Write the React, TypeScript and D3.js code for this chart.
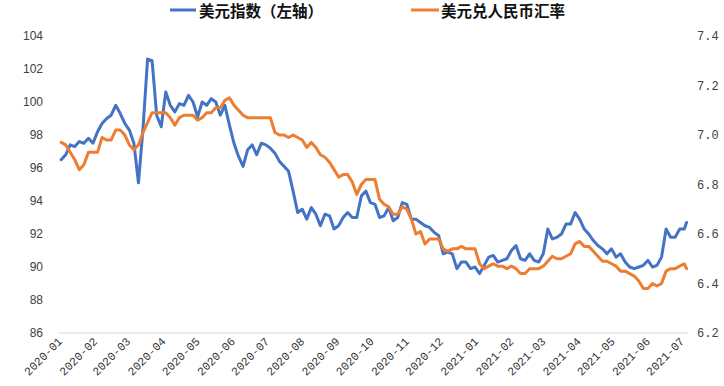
import { useMemo } from 'react';
import * as d3 from 'd3';

const dates = [
  '2020-01-02', '2020-01-06', '2020-01-10', '2020-01-14', '2020-01-18', '2020-01-22', '2020-01-26', '2020-01-30',
  '2020-02-03', '2020-02-07', '2020-02-11', '2020-02-15', '2020-02-19', '2020-02-23', '2020-02-27',
  '2020-03-02', '2020-03-06', '2020-03-10', '2020-03-14', '2020-03-18', '2020-03-22', '2020-03-26', '2020-03-30',
  '2020-04-03', '2020-04-07', '2020-04-11', '2020-04-15', '2020-04-19', '2020-04-23', '2020-04-27',
  '2020-05-01', '2020-05-05', '2020-05-09', '2020-05-13', '2020-05-17', '2020-05-21', '2020-05-25', '2020-05-29',
  '2020-06-02', '2020-06-06', '2020-06-10', '2020-06-14', '2020-06-18', '2020-06-22', '2020-06-26', '2020-06-30',
  '2020-07-04', '2020-07-08', '2020-07-12', '2020-07-16', '2020-07-20', '2020-07-24', '2020-07-28',
  '2020-08-01', '2020-08-05', '2020-08-09', '2020-08-13', '2020-08-17', '2020-08-21', '2020-08-25', '2020-08-29',
  '2020-09-02', '2020-09-06', '2020-09-10', '2020-09-14', '2020-09-18', '2020-09-22', '2020-09-26', '2020-09-30',
  '2020-10-04', '2020-10-08', '2020-10-12', '2020-10-16', '2020-10-20', '2020-10-24', '2020-10-28',
  '2020-11-01', '2020-11-05', '2020-11-09', '2020-11-13', '2020-11-17', '2020-11-21', '2020-11-25', '2020-11-29',
  '2020-12-03', '2020-12-07', '2020-12-11', '2020-12-15', '2020-12-19', '2020-12-23', '2020-12-27', '2020-12-31',
  '2021-01-04', '2021-01-08', '2021-01-12', '2021-01-16', '2021-01-20', '2021-01-24', '2021-01-28',
  '2021-02-01', '2021-02-05', '2021-02-09', '2021-02-13', '2021-02-17', '2021-02-21', '2021-02-25',
  '2021-03-01', '2021-03-05', '2021-03-09', '2021-03-13', '2021-03-17', '2021-03-21', '2021-03-25', '2021-03-29',
  '2021-04-02', '2021-04-06', '2021-04-10', '2021-04-14', '2021-04-18', '2021-04-22', '2021-04-26', '2021-04-30',
  '2021-05-04', '2021-05-08', '2021-05-12', '2021-05-16', '2021-05-20', '2021-05-24', '2021-05-28',
  '2021-06-01', '2021-06-05', '2021-06-09', '2021-06-13', '2021-06-17', '2021-06-21', '2021-06-25', '2021-06-29',
  '2021-07-03', '2021-07-05',
];

// 美元指数 (left axis)
const dxy = [
  96.5, 96.8, 97.4, 97.3, 97.6, 97.5, 97.8, 97.5,
  98.2, 98.7, 99.0, 99.2, 99.8, 99.3, 98.7,
  98.3, 97.5, 95.1, 98.4, 102.6, 102.5, 99.2, 98.5,
  100.6, 99.8, 99.4, 99.9, 99.8, 100.4, 100.0,
  99.1, 100.0, 99.8, 100.2, 100.0, 99.2, 99.8, 98.6,
  97.5, 96.7, 96.1, 97.1, 97.4, 96.8, 97.5, 97.4,
  97.2, 96.9, 96.4, 96.1, 95.8, 94.6, 93.3,
  93.5, 92.9, 93.6, 93.2, 92.5, 93.2, 93.1, 92.3,
  92.5, 93.0, 93.3, 93.0, 93.0, 94.3, 94.6, 93.9,
  93.8, 93.0, 93.1, 93.6, 92.8, 93.0, 93.9,
  93.8, 92.9, 92.9, 92.7, 92.5, 92.4, 92.1, 91.9,
  90.8, 90.9, 90.8, 89.9, 90.3, 90.3, 89.9, 90.0,
  89.6, 90.1, 90.6, 90.7, 90.3, 90.4, 90.5,
  91.0, 91.3, 90.5, 90.4, 90.8, 90.4, 90.3,
  90.8, 92.3, 91.7, 91.8, 92.0, 92.6, 92.6, 93.3,
  92.9, 92.3, 92.0, 91.6, 91.3, 91.1, 90.8, 91.1,
  90.6, 90.8, 90.3, 90.0, 89.9, 90.0, 90.1,
  90.4, 90.0, 90.1, 90.6, 92.3, 91.8, 91.8, 92.3,
  92.3, 92.7,
];

// 美元兑人民币汇率 (right axis)
const usdcny = [
  6.97, 6.96, 6.93, 6.90, 6.86, 6.88, 6.93, 6.93,
  6.93, 6.99, 6.98, 6.98, 7.02, 7.02, 7.00,
  6.96, 6.94, 6.96, 7.01, 7.05, 7.09, 7.09, 7.09,
  7.09, 7.07, 7.04, 7.07, 7.08, 7.08, 7.08,
  7.06, 7.07, 7.09, 7.09, 7.11, 7.11, 7.14, 7.15,
  7.12, 7.10, 7.08, 7.07, 7.07, 7.07, 7.07, 7.07,
  7.07, 7.01, 7.00, 7.00, 6.99, 7.00, 6.99,
  6.98, 6.95, 6.97, 6.95, 6.92, 6.91, 6.89, 6.86,
  6.83, 6.84, 6.84, 6.81, 6.76, 6.80, 6.82, 6.82,
  6.82, 6.74, 6.72, 6.71, 6.68, 6.68, 6.71,
  6.70, 6.66, 6.60, 6.61, 6.56, 6.58, 6.58, 6.58,
  6.54, 6.53, 6.54, 6.54, 6.55, 6.54, 6.54, 6.54,
  6.48, 6.46, 6.47, 6.48, 6.47, 6.47, 6.46,
  6.47, 6.46, 6.44, 6.44, 6.46, 6.46, 6.46,
  6.47, 6.49, 6.51, 6.50, 6.50, 6.51, 6.52, 6.56,
  6.57, 6.55, 6.55, 6.53, 6.51, 6.49, 6.49, 6.48,
  6.47, 6.45, 6.45, 6.44, 6.43, 6.41, 6.38,
  6.38, 6.40, 6.39, 6.40, 6.45, 6.46, 6.46, 6.47,
  6.48, 6.46,
];

const leftTicks = [86, 88, 90, 92, 94, 96, 98, 100, 102, 104];
const rightTicks = [6.2, 6.4, 6.6, 6.8, 7.0, 7.2, 7.4];
const monthLabels = [
  '2020-01', '2020-02', '2020-03', '2020-04', '2020-05', '2020-06', '2020-07', '2020-08', '2020-09', '2020-10',
  '2020-11', '2020-12', '2021-01', '2021-02', '2021-03', '2021-04', '2021-05', '2021-06', '2021-07',
];

const BLUE = '#4472C4';
const ORANGE = '#ED7D31';

const parseDay = d3.timeParse('%Y-%m-%d');
const parseMonth = d3.timeParse('%Y-%m');

export default function App() {
  const width = 724;
  const height = 386;
  const plot = { left: 60, right: 682, top: 36, bottom: 333 };

  const { x, yL, yR, bluePath, orangePath } = useMemo(() => {
    const x = d3
      .scaleTime()
      .domain([parseMonth('2020-01')!, parseMonth('2021-07')!])
      .range([plot.left, plot.right]);
    const yL = d3.scaleLinear().domain([86, 104]).range([plot.bottom, plot.top]);
    const yR = d3.scaleLinear().domain([6.2, 7.4]).range([plot.bottom, plot.top]);
    const ts = dates.map((d) => parseDay(d)!);
    const blue = d3
      .line<number>()
      .x((_, i) => x(ts[i]))
      .y((v) => yL(v));
    const orange = d3
      .line<number>()
      .x((_, i) => x(ts[i]))
      .y((v) => yR(v));
    return { x, yL, yR, bluePath: blue(dxy) ?? '', orangePath: orange(usdcny) ?? '' };
  }, []);

  const lastX = x(parseDay(dates[dates.length - 1])!);

  return (
    <svg width={width} height={height} style={{ position: 'absolute', left: 0, top: 0, background: '#fff' }}>
      {/* legend */}
      <line x1={170} x2={196} y1={10} y2={10} stroke={BLUE} strokeWidth={3} />
      <text x={199} y={17} fontFamily="'Noto Sans CJK SC', sans-serif" fontSize={15.5} fontWeight="bold" fill="#111">
        美元指数（左轴）
      </text>
      <line x1={411} x2={439} y1={10} y2={10} stroke={ORANGE} strokeWidth={3} />
      <text x={441} y={17} fontFamily="'Noto Sans CJK SC', sans-serif" fontSize={15.5} fontWeight="bold" fill="#111">
        美元兑人民币汇率
      </text>

      {/* baseline */}
      <line x1={plot.left - 1} x2={lastX + 1} y1={plot.bottom} y2={plot.bottom} stroke="#d9d9d9" strokeWidth={1} />

      {/* left axis */}
      {leftTicks.map((t) => (
        <text
          key={`l${t}`}
          x={43}
          y={yL(t) + 4}
          textAnchor="end"
          fontFamily="'Liberation Sans', Arial, sans-serif"
          fontSize={12}
          fill="#404040"
        >
          {t}
        </text>
      ))}

      {/* right axis */}
      {rightTicks.map((t) => (
        <text
          key={`r${t}`}
          x={697}
          y={yR(t) + 4}
          fontFamily="'Liberation Mono', monospace"
          fontSize={12}
          fill="#404040"
        >
          {t.toFixed(1)}
        </text>
      ))}

      {/* x labels */}
      {monthLabels.map((m) => {
        const px = x(parseMonth(m)!) + 3;
        return (
          <text
            key={m}
            transform={`translate(${px},342) rotate(-45)`}
            textAnchor="end"
            fontFamily="'Liberation Mono', monospace"
            fontSize={11.5}
            fill="#333"
          >
            {m}
          </text>
        );
      })}

      <path d={bluePath} fill="none" stroke={BLUE} strokeWidth={3} strokeLinejoin="round" strokeLinecap="round" />
      <path d={orangePath} fill="none" stroke={ORANGE} strokeWidth={3} strokeLinejoin="round" strokeLinecap="round" />
    </svg>
  );
}
